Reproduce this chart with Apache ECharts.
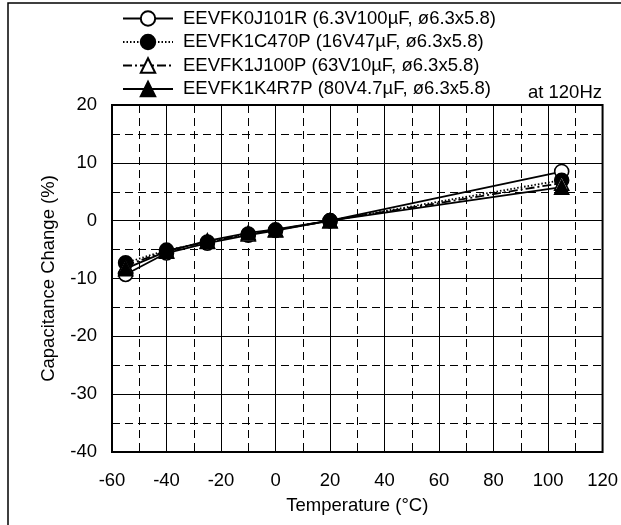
<!DOCTYPE html>
<html>
<head>
<meta charset="utf-8">
<script src="https://cdn.jsdelivr.net/npm/echarts@6/dist/echarts.min.js"></script>
<style>html,body{margin:0;padding:0;background:#fff}#c{width:621px;height:525px}</style>
</head>
<body>
<div id="c"></div>
<script>
const temps = [-55, -40, -25, -10, 0, 20, 105];
const seriesNames = [
  'EEVFK0J101R (6.3V100µF, ø6.3x5.8)',
  'EEVFK1C470P (16V47µF, ø6.3x5.8)',
  'EEVFK1J100P (63V10µF, ø6.3x5.8)',
  'EEVFK1K4R7P (80V4.7µF, ø6.3x5.8)'
];
const capA = [-9.3, -5.6, -3.9, -2.5, -1.7, 0, 8.5];
const capB = [-7.3, -5.1, -3.7, -2.3, -1.6, 0, 7.0];
const capC = [-7.8, -5.2, -3.6, -2.3, -1.6, 0, 6.5];
const capD = [-8.3, -5.3, -3.5, -2.1, -1.5, 0, 5.8];
const xTicks = {min: -60, max: 120, interval: 20};
const yTicks = {min: -40, max: 20, interval: 10};

const FONT = "'Liberation Sans', Arial, Helvetica, sans-serif";
const FS = 18.5;
const pair = v => temps.map((t, i) => [t, v[i]]);

function mk(name, data, symbol, fill, dash) {
  return {
    name: name, type: 'line', data: pair(data),
    symbol: symbol, symbolSize: 14,
    itemStyle: {color: fill, borderColor: '#000', borderWidth: 1.6},
    lineStyle: {color: '#000', width: 1.8, type: dash},
    emphasis: {disabled: true}, animation: false, z: 3
  };
}

const chart = echarts.init(document.getElementById('c'), null, {renderer: 'canvas'});
chart.setOption({
  backgroundColor: '#fff',
  animation: false,
  textStyle: {fontFamily: FONT, color: '#000'},
  grid: {left: 112, right: 15, top: 105, bottom: 73, show: true, borderColor: '#000', borderWidth: 2, backgroundColor: 'transparent', z: 4},
  legend: {
    orient: 'vertical', left: 122, top: 9, padding: 0,
    itemWidth: 50, itemHeight: 18, itemGap: 4.5,
    textStyle: {fontFamily: FONT, fontSize: FS, color: '#000', padding: [0, 0, 0, 5]},
    data: seriesNames, selectedMode: false
  },
  graphic: [
    {type: 'rect', shape: {x: 8, y: 3, width: 800, height: 700}, style: {fill: 'none', stroke: '#000', lineWidth: 1.5}, silent: true},
    {type: 'text', right: 19, top: 83, style: {text: 'at 120Hz', font: FS + "px " + FONT, fill: '#000'}}
  ],
  xAxis: {
    type: 'value', min: xTicks.min, max: xTicks.max, interval: xTicks.interval,
    name: 'Temperature (°C)', nameLocation: 'middle', nameGap: 44,
    nameTextStyle: {fontSize: FS, color: '#000', fontFamily: FONT},
    axisLine: {show: false}, axisTick: {show: false},
    axisLabel: {fontSize: FS, color: '#000', margin: 19, fontFamily: FONT},
    splitLine: {show: true, lineStyle: {color: '#000', width: 1}},
    minorTick: {show: false, splitNumber: 2},
    minorSplitLine: {show: true, lineStyle: {color: '#000', width: 1, type: [8, 5]}}
  },
  yAxis: {
    type: 'value', min: yTicks.min, max: yTicks.max, interval: yTicks.interval,
    name: 'Capacitance Change (%)', nameLocation: 'middle', nameGap: 54,
    nameTextStyle: {fontSize: FS, color: '#000', fontFamily: FONT},
    axisLine: {show: false}, axisTick: {show: false},
    axisLabel: {fontSize: FS, color: '#000', margin: 15, fontFamily: FONT},
    splitLine: {show: true, lineStyle: {color: '#000', width: 1}},
    minorTick: {show: false, splitNumber: 2},
    minorSplitLine: {show: true, lineStyle: {color: '#000', width: 1, type: [8, 5]}}
  },
  series: [
    mk(seriesNames[0], capA, 'circle', '#fff', 'solid'),
    mk(seriesNames[1], capB, 'circle', '#000', [1.5, 2]),
    mk(seriesNames[2], capC, 'triangle', '#fff', [9, 3, 2, 3]),
    mk(seriesNames[3], capD, 'triangle', '#000', 'solid')
  ]
});
</script>
</body>
</html>
